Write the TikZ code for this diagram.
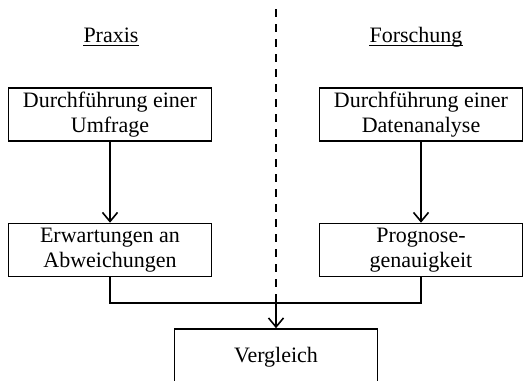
\documentclass[tikz,border=0pt]{standalone}
\usepackage{fontspec}
\setmainfont{Liberation Serif}
\usetikzlibrary{arrows.meta}
\begin{document}
\begin{tikzpicture}[x=1pt,y=-1pt,
  box/.style={draw, line width=1.6pt, minimum width=203pt, minimum height=53pt,
    align=center, inner sep=0pt, font=\fontsize{22}{25}\selectfont},
  head/.style={font=\fontsize{22}{25}\selectfont, inner sep=0pt, anchor=base},
  rule/.style={line width=1pt},
  link/.style={line width=1.6pt},
  arr/.style={link, -{Straight Barb[length=9pt,width=15pt,line width=1.6pt]}}]
\useasboundingbox (0,0) rectangle (527,380);

% column headings, underlined at a common depth
\node[head] (praxis) at (111,42.5) {Praxis};
\node[head] (forschung) at (416,42.5) {Forschung};
\draw[rule] ([yshift=-3.2pt]praxis.base west) -- ([yshift=-3.2pt]praxis.base east);
\draw[rule] ([yshift=-3.2pt]forschung.base west) -- ([yshift=-3.2pt]forschung.base east);

% separator between the two columns
\coordinate (septop) at (276,9);
\coordinate (join) at (276,303);
\draw[line width=1.6pt, dash pattern=on 8pt off 7pt] (septop) -- (join);

% boxes
\node[box] (umfrage) at (110,114.5) {Durchführung einer\\Umfrage};
\node[box] (analyse) at (421,114.5) {Durchführung einer\\Datenanalyse};
\node[box] (erwart) at (110,250) {Erwartungen an\\Abweichungen};
\node[box] (prognose) at (421,250) {Prognose-\\genauigkeit};
\node[box, minimum height=56pt] (vergleich) at (276,357) {Vergleich};

% connectors
\draw[arr] (umfrage) -- (erwart);
\draw[arr] (analyse) -- (prognose);
\draw[link] (erwart.south) |- (join) -| (prognose.south);
\draw[arr] (join) -- (vergleich);
\end{tikzpicture}
\end{document}
